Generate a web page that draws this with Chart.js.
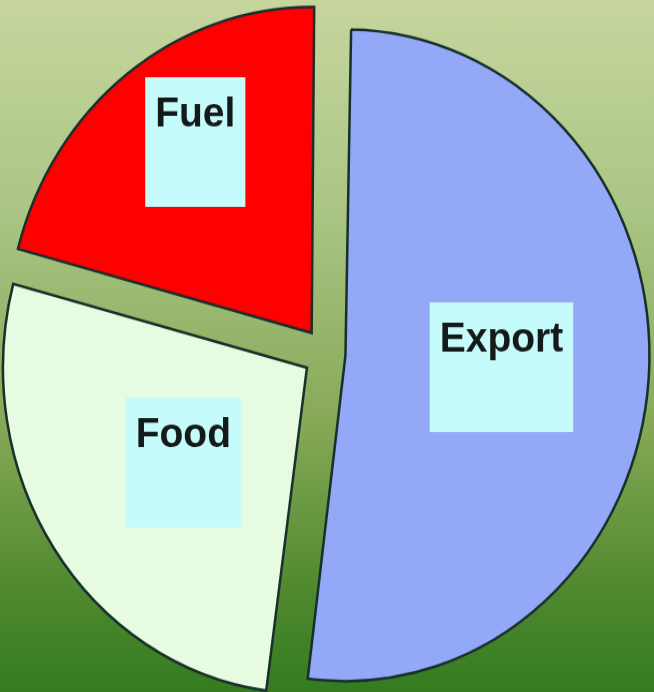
<!DOCTYPE html>
<html lang="en">
<head>
    <meta charset="UTF-8">
    <title>Export / Food / Fuel</title>
    <script src="https://cdn.jsdelivr.net/npm/chart.js"></script>
    <style>
        html, body { margin: 0; padding: 0; }
        body {
            width: 654px; height: 692px; overflow: hidden;
            background: linear-gradient(to bottom, #c6d69e 0%, #abc585 30%, #88aa59 60%, #50892f 85%, #347b20 100%);
        }
        #wrap { width: 654px; height: 692px; overflow: hidden; }
        /* the original pie is a little taller than wide */
        #pie { width: 654px; height: 646px; transform: scaleY(1.072); transform-origin: 0 0; }
    </style>
</head>
<body>
    <div id="wrap"><canvas id="pie" width="654" height="646"></canvas></div>
    <script>
        // data
        const categories = ['Export', 'Food', 'Fuel'];
        const shares = [52, 27, 21];

        const sliceColors = ['#93a9f7', '#e6fbdf', '#ff0000'];
        // where each label box sits: fraction of radius, and a small turn (degrees) off the slice middle
        const labelRadius = [0.577, 0.577, 0.78];
        const labelTurn = [0, -1.6, 3.7];

        // Chart.js grows big (>180deg) exploded slices by their offset; keep all slices the same size
        const evenRadius = {
            id: 'evenRadius',
            afterDatasetsUpdate(chart) {
                chart.getDatasetMeta(0).data.forEach(arc => {
                    const o = (arc.options.offset || 0) / 4;
                    const fix = 1 - Math.sin(Math.min(Math.PI, arc.circumference));
                    arc.outerRadius -= o * fix;
                });
            }
        };

        const labelBoxes = {
            id: 'labelBoxes',
            afterDatasetsDraw(chart) {
                const ctx = chart.ctx;
                const meta = chart.getDatasetMeta(0);
                const R = meta.controller.outerRadius;
                ctx.save();
                ctx.font = 'bold 39px "Liberation Sans", Arial, sans-serif';
                meta.data.forEach((arc, i) => {
                    const p = arc.getProps(['x', 'y', 'startAngle', 'endAngle']);
                    const mid = (p.startAngle + p.endAngle) / 2 + labelTurn[i] * Math.PI / 180;
                    const r = R * labelRadius[i];
                    const cx = p.x + Math.cos(mid) * r;
                    const cy = p.y + Math.sin(mid) * r;
                    const tw = ctx.measureText(categories[i]).width;
                    const w = tw + 20, h = 121;
                    ctx.fillStyle = '#c6fbfb';
                    ctx.fillRect(cx - w / 2, cy - h / 2, w, h);
                    ctx.fillStyle = '#141a1a';
                    ctx.textAlign = 'center';
                    ctx.textBaseline = 'alphabetic';
                    ctx.fillText(categories[i], cx, cy - h / 2 + 46);
                });
                ctx.restore();
            }
        };

        new Chart(document.getElementById('pie'), {
            type: 'pie',
            data: {
                labels: categories,
                datasets: [{
                    data: shares,
                    backgroundColor: sliceColors,
                    borderColor: '#17302b',
                    borderWidth: 2.5,
                    borderJoinStyle: 'miter',
                    offset: [76, 94, 98],
                    hoverOffset: 0
                }]
            },
            options: {
                responsive: false,
                devicePixelRatio: 1,
                animation: false,
                events: [],
                rotation: 0.5,
                radius: 304,
                layout: { padding: { left: 0, right: 1, top: 14, bottom: 0 } },
                plugins: {
                    legend: { display: false },
                    tooltip: { enabled: false }
                }
            },
            plugins: [evenRadius, labelBoxes]
        });
    </script>
</body>
</html>
